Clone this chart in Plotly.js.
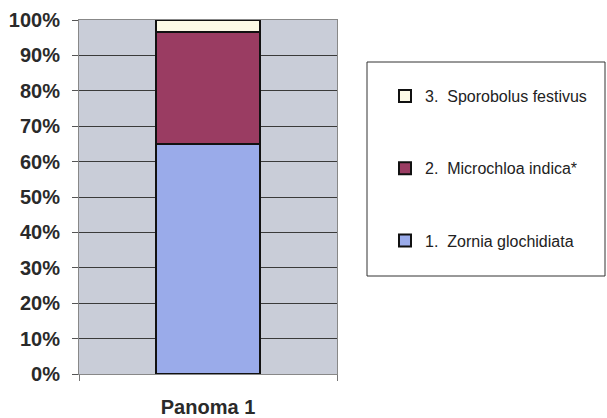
<!DOCTYPE html>
<html>
<head>
<meta charset="utf-8">
<script src="https://cdn.plot.ly/plotly-3.0.1.min.js"></script>
<style>html,body{margin:0;padding:0;background:#fff;}#chart{width:607px;height:418px;}</style>
</head>
<body>
<div id="chart"></div>
<script>
var categories = ['Panoma 1'];
var seriesNames = ['1.  Zornia glochidiata', '2.  Microchloa indica*', '3.  Sporobolus festivus'];
var zornia = [65.0];
var microchloa = [31.6];
var sporobolus = [3.4];
var seriesColors = ['#9aabea', '#9a3c62', '#fcfae6'];
var yTickVals = [0, 10, 20, 30, 40, 50, 60, 70, 80, 90, 100];

var values = [zornia, microchloa, sporobolus];
var traces = values.map(function (v, i) {
  return {
    type: 'bar',
    x: categories,
    y: v,
    name: seriesNames[i],
    legendgroup: 'g' + i,
    legendrank: 10 - i,
    marker: {color: seriesColors[i], line: {color: '#111', width: 2}},
    hoverinfo: 'skip'
  };
});

var layout = {
  width: 607, height: 418,
  margin: {l: 79, r: 270, t: 20, b: 44, pad: 0},
  barmode: 'stack',
  bargap: 0.6,
  paper_bgcolor: '#ffffff',
  plot_bgcolor: '#c9cdd8',
  font: {family: 'Liberation Sans, Arial, sans-serif', color: '#2a2a2a'},
  xaxis: {
    type: 'category', range: [-0.5, 0.5], tickson: 'boundaries',
    ticks: 'outside', ticklen: 6, tickcolor: '#777', showgrid: false,
    showline: true, linecolor: '#888', linewidth: 1, mirror: true,
    tickfont: {size: 20, family: 'Liberation Sans, Arial, sans-serif', weight: 'bold', color: '#2a2a2a'},
    ticklabelstandoff: 15, zeroline: false, fixedrange: true
  },
  yaxis: {
    range: [0, 100], tickvals: yTickVals, ticktext: yTickVals.map(function (t) { return t + '%'; }),
    ticks: 'outside', ticklen: 6, tickcolor: '#555',
    showgrid: true, gridcolor: '#3a3a3a', gridwidth: 1,
    showline: true, linecolor: '#888', linewidth: 1, mirror: true,
    tickfont: {size: 20, family: 'Liberation Sans, Arial, sans-serif', weight: 'bold', color: '#2a2a2a'},
    ticklabelstandoff: 8, zeroline: false, fixedrange: true
  },
  showlegend: true,
  legend: {
    x: (385 - 79) / 258, xanchor: 'left',
    y: (374 - 79) / 354, yanchor: 'top',
    traceorder: 'grouped', tracegroupgap: 48.5,
    bgcolor: 'rgba(0,0,0,0)', borderwidth: 0,
    font: {size: 16, family: 'Liberation Sans, Arial, sans-serif', color: '#222'},
    itemwidth: 30
  },
  shapes: [{
    type: 'rect', xref: 'paper', yref: 'paper',
    x0: (367 - 79) / 258, x1: (605 - 79) / 258,
    y0: (374 - 276) / 354, y1: (374 - 62) / 354,
    line: {color: '#333', width: 1}, fillcolor: 'rgba(0,0,0,0)'
  }]
};

Plotly.newPlot('chart', traces, layout, {displayModeBar: false, staticPlot: true});
</script>
</body>
</html>
